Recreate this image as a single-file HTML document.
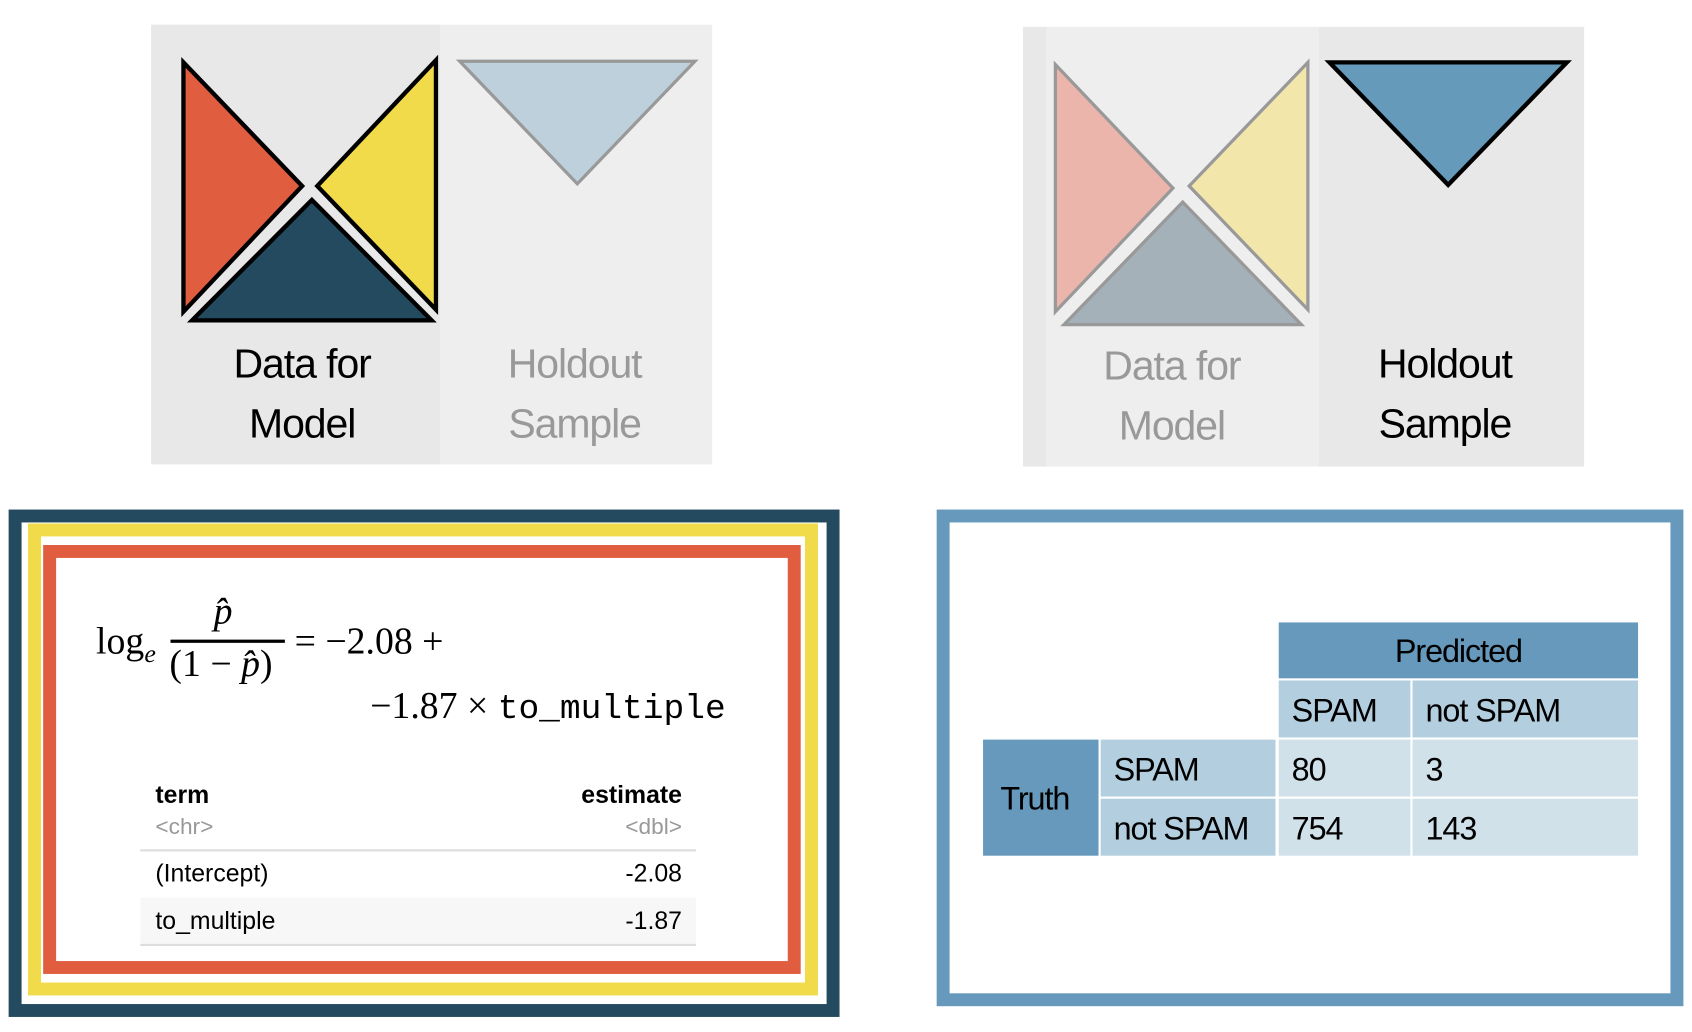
<!DOCTYPE html>
<html><head><meta charset="utf-8"><style>
html,body{margin:0;padding:0;background:#fff;width:1692px;height:1032px;overflow:hidden}
#s{position:absolute;left:0;top:0;width:1568px;height:960px;transform-origin:0 0;transform:scale(1.0791,1.075);font-family:"Liberation Sans",sans-serif}
.a{position:absolute}
.t{position:absolute;text-align:center;font-size:38px;line-height:56px;letter-spacing:-1px}
.c{position:absolute;box-sizing:border-box;font-size:30px;display:flex;align-items:center;padding-left:12px;padding-top:4px;letter-spacing:-1px}
</style></head><body>
<div id="s">
<div class="a" style="left:140px;top:23px;width:268px;height:409px;background:#e8e8e8"></div>
<div class="a" style="left:408px;top:23px;width:252px;height:409px;background:#efeeef"></div>
<svg class="a" style="left:0;top:0" width="1568" height="460">
<polygon points="170,58 170,290 280,173" fill="#e05d40" stroke="#000" stroke-width="4"/>
<polygon points="404,56 404,288 294,173" fill="#f2db4a" stroke="#000" stroke-width="4"/>
<polygon points="178,298 400,298 289,186" fill="#234a5e" stroke="#000" stroke-width="4"/>
<polygon points="426,57 644,57 535,171" fill="#bdd0dc" stroke="#999" stroke-width="3"/>
<rect x="948" y="25" width="22" height="409" fill="#e8e8e8"/>
<rect x="970" y="25" width="252" height="409" fill="#efeeef"/>
<rect x="1222" y="25" width="246" height="409" fill="#e8e8e8"/>
<polygon points="978,60 978,290 1087,175" fill="#ebb5ac" stroke="#999" stroke-width="3"/>
<polygon points="1212,58 1212,288 1102,173" fill="#f2e6ab" stroke="#999" stroke-width="3"/>
<polygon points="986,302 1206,302 1096,188" fill="#a4b1b9" stroke="#999" stroke-width="3"/>
<polygon points="1232,58 1452,58 1342,172" fill="#659abb" stroke="#000" stroke-width="4"/>
</svg>
<div class="t" style="left:150px;top:311px;width:260px;color:#000">Data for<br>Model</div>
<div class="t" style="left:405px;top:311px;width:255px;color:#999">Holdout<br>Sample</div>
<div class="t" style="left:960px;top:313px;width:252px;color:#999">Data for<br>Model</div>
<div class="t" style="left:1212px;top:311px;width:254px;color:#000">Holdout<br>Sample</div>
<div class="a" style="left:8px;top:474px;width:770px;height:472px;box-sizing:border-box;border:12px solid #234a5e"></div>
<div class="a" style="left:26px;top:487px;width:732px;height:439px;box-sizing:border-box;border:12px solid #f2db4a"></div>
<div class="a" style="left:40px;top:507px;width:702px;height:399px;box-sizing:border-box;border:12px solid #e05d40"></div>
<div class="a" style="left:0;top:0;font-family:'Liberation Serif',serif;font-size:35px;color:#000">
<div class="a" style="left:89px;top:577px">log<i style="font-size:24px;position:relative;top:8px">e</i></div>
<div class="a" style="left:198px;top:549px"><i>p̂</i></div>
<div class="a" style="left:158px;top:595px;width:106px;height:3px;background:#000"></div>
<div class="a" style="left:157px;top:598px;white-space:nowrap">(1 − <i>p̂</i>)</div>
<div class="a" style="left:273px;top:577px;white-space:nowrap">= −2.08 +</div>
<div class="a" style="left:343px;top:637px;white-space:nowrap">−1.87 × <span style="font-family:'Liberation Mono',monospace;font-size:32px">to_multiple</span></div>
</div>
<div class="a" style="left:130px;top:724px;width:515px;font-size:23px">
<div class="a" style="left:14px;top:2px;font-weight:bold">term</div>
<div class="a" style="right:13px;top:2px;font-weight:bold">estimate</div>
<div class="a" style="left:14px;top:34px;color:#999;font-size:21px">&lt;chr&gt;</div>
<div class="a" style="right:13px;top:34px;color:#999;font-size:21px">&lt;dbl&gt;</div>
<div class="a" style="left:0;top:66px;width:515px;height:2px;background:#ddd"></div>
<div class="a" style="left:14px;top:75px">(Intercept)</div>
<div class="a" style="right:13px;top:75px">-2.08</div>
<div class="a" style="left:0;top:111px;width:515px;height:43px;background:#f7f7f7"></div>
<div class="a" style="left:14px;top:119px">to_multiple</div>
<div class="a" style="right:13px;top:119px">-1.87</div>
<div class="a" style="left:0;top:154px;width:515px;height:2px;background:#ddd"></div>
</div>
<div class="a" style="left:868px;top:474px;width:692px;height:462px;box-sizing:border-box;border:12px solid #6699bb"></div>
<div class="c" style="left:1185px;top:579px;width:333px;height:52px;background:#6699bb;justify-content:center;padding-left:0">Predicted</div>
<div class="c" style="left:1185px;top:633px;width:122px;height:53px;background:#b3cfdf">SPAM</div>
<div class="c" style="left:1309px;top:633px;width:209px;height:53px;background:#b3cfdf">not SPAM</div>
<div class="c" style="left:911px;top:688px;width:107px;height:108px;background:#6699bb;padding-left:16px">Truth</div>
<div class="c" style="left:1020px;top:688px;width:162px;height:53px;background:#b3cfdf">SPAM</div>
<div class="c" style="left:1020px;top:743px;width:162px;height:53px;background:#b3cfdf">not SPAM</div>
<div class="c" style="left:1185px;top:688px;width:122px;height:53px;background:#d0e1ea">80</div>
<div class="c" style="left:1309px;top:688px;width:209px;height:53px;background:#d0e1ea">3</div>
<div class="c" style="left:1185px;top:743px;width:122px;height:53px;background:#d0e1ea">754</div>
<div class="c" style="left:1309px;top:743px;width:209px;height:53px;background:#d0e1ea">143</div>
</div>
</body></html>
